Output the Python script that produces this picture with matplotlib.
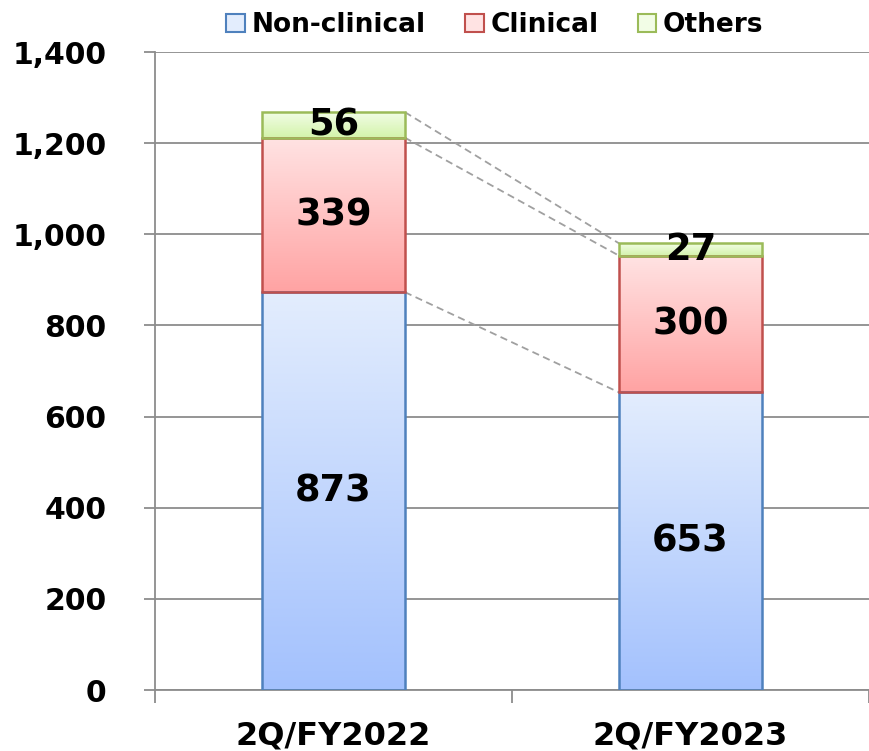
import numpy as np
import matplotlib.pyplot as plt
from matplotlib.patches import Patch
from matplotlib.colors import LinearSegmentedColormap

# data
categories = ['2Q/FY2022', '2Q/FY2023']
non_clinical = [873, 653]
clinical = [339, 300]
others = [56, 27]
series_names = ['Non-clinical', 'Clinical', 'Others']
yticks = [0, 200, 400, 600, 800, 1000, 1200, 1400]

# top / bottom colours of the gradients, edge colours
grad = {
    'Non-clinical': ('#e3edfd', '#a3c1fd'),
    'Clinical': ('#ffe3e3', '#ffa3a3'),
    'Others': ('#f2fde6', '#d3f3aa'),
}
edges = {'Non-clinical': '#4f81bd', 'Clinical': '#c0504d', 'Others': '#9bbb59'}

plt.rcParams['font.family'] = 'DejaVu Sans'
plt.rcParams['font.weight'] = 'bold'

fig = plt.figure(figsize=(8.69, 7.51), dpi=100)
ax = fig.add_axes([155 / 869, 61 / 751, 714 / 869, 638 / 751])

x = np.arange(len(categories))
width = 0.4
grid_col = '#8c8c8c'

ax.set_xlim(-0.5, 1.5)
ax.set_ylim(0, 1400)
ax.set_yticks(yticks)
ax.set_yticklabels([f'{v:,}' for v in yticks], fontsize=21.5, fontweight='bold')
ax.yaxis.grid(True, color=grid_col, lw=1.3)
ax.set_axisbelow(True)
ax.tick_params(axis='y', length=8, width=1.3, color=grid_col, pad=27)
ax.set_xticks([-0.5, 0.5, 1.5])
ax.set_xticklabels([])
ax.tick_params(axis='x', length=9, width=1.3, color=grid_col)
ax.set_xticks(x, minor=True)
ax.set_xticklabels(categories, minor=True, fontsize=23, fontweight='bold')
ax.tick_params(axis='x', which='minor', length=0, pad=22)
for s in ['top', 'right']:
    ax.spines[s].set_visible(False)
ax.spines['left'].set_color(grid_col)
ax.spines['left'].set_linewidth(1.3)
ax.spines['bottom'].set_color(grid_col)
ax.spines['bottom'].set_linewidth(1.3)

stack = [('Non-clinical', non_clinical), ('Clinical', clinical), ('Others', others)]
bottoms = np.zeros(len(categories))
tops_by_series = []
for name, vals in stack:
    vals = np.array(vals, dtype=float)
    cmap = LinearSegmentedColormap.from_list(name, [grad[name][1], grad[name][0]])
    bars = ax.bar(x, vals, width, bottom=bottoms, facecolor='none',
                  edgecolor=edges[name], lw=1.8, zorder=3)
    for i, b in enumerate(bars):
        g = np.linspace(0, 1, 256).reshape(-1, 1)
        im = ax.imshow(g, cmap=cmap, origin='lower', aspect='auto',
                       extent=[x[i] - width / 2, x[i] + width / 2,
                               bottoms[i], bottoms[i] + vals[i]], zorder=2)
        im.set_clip_path(b)
        ax.text(x[i], bottoms[i] + vals[i] / 2, f'{int(vals[i])}',
                ha='center', va='center', fontsize=26.5, fontweight='bold', zorder=5)
    bottoms = bottoms + vals
    tops_by_series.append(bottoms.copy())

# dashed connectors between the bars
for tops in tops_by_series:
    ax.plot([x[0] + width / 2, x[1] - width / 2], [tops[0], tops[1]],
            ls=(0, (4, 2.5)), color='#a0a0a0', lw=1.3, zorder=1)

ax.set_aspect('auto')
ax.set_xlim(-0.5, 1.5)
ax.set_ylim(0, 1400)

handles = [Patch(facecolor=grad[n][0], edgecolor=edges[n], lw=1.5) for n in series_names]
fig.legend(handles, series_names, loc='center', bbox_to_anchor=(495 / 869, 1 - 25 / 751),
           ncol=3, frameon=False, prop={'weight': 'bold', 'size': 19},
           handlelength=0.7, handleheight=0.7, handletextpad=0.25, columnspacing=1.5)

fig.savefig('out.png', dpi=100)
